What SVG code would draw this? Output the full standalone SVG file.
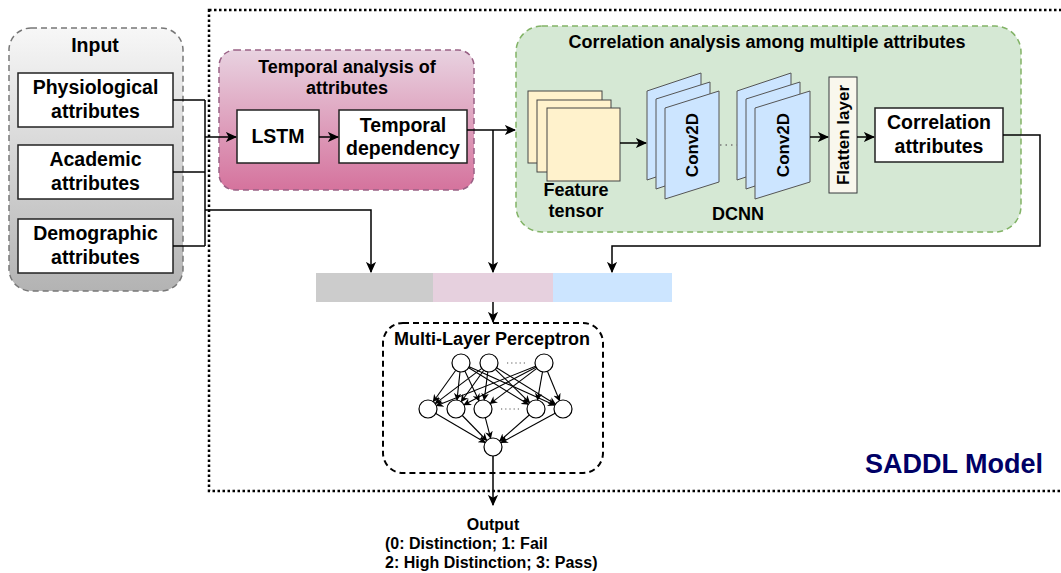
<svg xmlns="http://www.w3.org/2000/svg" width="1061" height="573" viewBox="0 0 1061 573">
  <defs>
    <linearGradient id="gradInput" x1="0" y1="0" x2="0" y2="1">
      <stop offset="0" stop-color="#f7f7f7"/>
      <stop offset="1" stop-color="#b3b3b3"/>
    </linearGradient>
    <linearGradient id="gradTemporal" x1="0" y1="0" x2="0" y2="1">
      <stop offset="0" stop-color="#e8d2e0"/>
      <stop offset="1" stop-color="#d5739d"/>
    </linearGradient>
    <marker id="arrow" viewBox="0 0 10 10" refX="9" refY="5" markerWidth="7.5" markerHeight="7.5" orient="auto" markerUnits="strokeWidth">
      <path d="M0,0.5 L10,5 L0,9.5 L2.5,5 z" fill="#000"/>
    </marker>
    <marker id="arrowSmall" viewBox="0 0 10 10" refX="9" refY="5" markerWidth="7" markerHeight="7" orient="auto" markerUnits="strokeWidth">
      <path d="M0,0 L10,5 L0,10 L3,5 z" fill="#000"/>
    </marker>
  </defs>
  <style>
    text { font-family: "Liberation Sans", Arial, Helvetica, sans-serif; font-weight: bold; fill: #000; }
    .node { font-size: 19.5px; text-anchor: middle; }
    .title { font-size: 18px; text-anchor: middle; }
    .box { fill: #ffffff; stroke: #222; stroke-width: 1.5; }
    .conn { fill: none; stroke: #000; stroke-width: 1.5; }
    .arr { marker-end: url(#arrow); }
    .tensor { fill: #fff2cc; stroke: #444; stroke-width: 1; }
    .conv { fill: #cce5ff; stroke: #555; stroke-width: 1; }
    .neuron { fill: #fff; stroke: #000; stroke-width: 1.2; }
    .edge { stroke: #000; stroke-width: 1.1; fill: none; marker-end: url(#arrowSmall); }
  </style>

  <rect width="1061" height="573" fill="#ffffff"/>

  <!-- SADDL model boundary -->
  <g id="saddl-model">
    <rect x="209" y="10" width="900" height="481" fill="none" stroke="#000" stroke-width="2.5" stroke-dasharray="2.5 2.5"/>
    <text x="954" y="473" style="font-size:27px; fill:#000066; text-anchor:middle;">SADDL Model</text>
  </g>

  <!-- Input group -->
  <g id="input">
    <rect x="9" y="28" width="174" height="263" rx="22" fill="url(#gradInput)" stroke="#777" stroke-width="1.5" stroke-dasharray="6 4"/>
    <text class="title" x="95" y="52" style="font-size:19.5px">Input</text>
  </g>
  <g id="physiological">
    <rect class="box" x="18" y="73" width="155" height="54"/>
    <text class="node" x="95.5" y="94">Physiological</text>
    <text class="node" x="95.5" y="118">attributes</text>
  </g>
  <g id="academic">
    <rect class="box" x="18" y="145" width="155" height="54"/>
    <text class="node" x="95.5" y="166">Academic</text>
    <text class="node" x="95.5" y="190">attributes</text>
  </g>
  <g id="demographic">
    <rect class="box" x="18" y="219" width="155" height="54"/>
    <text class="node" x="95.5" y="240">Demographic</text>
    <text class="node" x="95.5" y="264">attributes</text>
  </g>

  <!-- Temporal analysis group -->
  <g id="temporal-analysis">
    <rect x="219" y="50" width="255" height="140" rx="16" fill="url(#gradTemporal)" stroke="#996185" stroke-width="1.5" stroke-dasharray="6 4"/>
    <text class="title" x="347" y="73">Temporal analysis of</text>
    <text class="title" x="347" y="94">attributes</text>
  </g>
  <g id="lstm">
    <rect class="box" x="237" y="110" width="82" height="53"/>
    <text class="node" x="278" y="143">LSTM</text>
  </g>
  <g id="temporal-dependency">
    <rect class="box" x="339" y="110" width="128" height="53"/>
    <text class="node" x="403" y="132">Temporal</text>
    <text class="node" x="403" y="155">dependency</text>
  </g>

  <!-- Correlation analysis group -->
  <g id="correlation-analysis">
    <rect x="516" y="26" width="505" height="206" rx="26" fill="#d5e8d4" stroke="#82b366" stroke-width="1.5" stroke-dasharray="6 4"/>
    <text class="title" x="767" y="48">Correlation analysis among multiple attributes</text>
  </g>
  <g id="feature-tensor">
    <rect class="tensor" x="528" y="91" width="74" height="72"/>
    <rect class="tensor" x="537" y="100" width="74" height="72"/>
    <rect class="tensor" x="547" y="108" width="73" height="73"/>
    <text class="title" x="576" y="196">Feature</text>
    <text class="title" x="576" y="217">tensor</text>
  </g>
  <g id="dcnn">
    <polygon class="conv" points="647,91 701,73 701,162 647,180"/>
    <polygon class="conv" points="656,99 710,82 710,171 656,189"/>
    <polygon class="conv" points="665,108 719,91 719,182 665,199"/>
    <text x="692" y="145" transform="rotate(-90 692 145)" style="font-size:17px; text-anchor:middle; dominant-baseline:central;">Conv2D</text>
    <polygon class="conv" points="737,91 791,73 791,162 737,180"/>
    <polygon class="conv" points="746,99 800,82 800,171 746,189"/>
    <polygon class="conv" points="755,108 810,91 810,182 755,199"/>
    <text x="783" y="145" transform="rotate(-90 783 145)" style="font-size:17px; text-anchor:middle; dominant-baseline:central;">Conv2D</text>
    <line x1="720" y1="145" x2="737" y2="145" stroke="#777" stroke-width="1.5" stroke-dasharray="1.5 4"/>
    <text class="title" x="738" y="220">DCNN</text>
  </g>
  <g id="flatten-layer">
    <rect x="829" y="77" width="28" height="116" fill="#f9f7ed" stroke="#36393d" stroke-width="1"/>
    <text x="843" y="135" transform="rotate(-90 843 135)" style="font-size:17px; text-anchor:middle; dominant-baseline:central;">Flatten layer</text>
  </g>
  <g id="correlation-attributes">
    <rect class="box" x="875" y="108" width="128" height="54"/>
    <text class="node" x="939" y="129">Correlation</text>
    <text class="node" x="939" y="153">attributes</text>
  </g>

  <!-- Concatenated feature vector -->
  <g id="feature-vector">
    <rect x="316" y="273" width="117" height="29" fill="#cccccc"/>
    <rect x="433" y="273" width="120" height="29" fill="#e6d0de"/>
    <rect x="553" y="273" width="119" height="29" fill="#cce5ff"/>
  </g>

  <!-- Multi-layer perceptron -->
  <g id="mlp">
    <rect x="383" y="323" width="220" height="150" rx="20" fill="none" stroke="#000" stroke-width="2" stroke-dasharray="6 4"/>
    <text class="title" x="492" y="345">Multi-Layer Perceptron</text>
    <g id="mlp-edges">
      <line class="edge" x1="455.8" y1="370.3" x2="433.2" y2="401.7"/>
      <line class="edge" x1="460.0" y1="371.9" x2="457.0" y2="400.1"/>
      <line class="edge" x1="464.9" y1="371.1" x2="479.1" y2="400.9"/>
      <line class="edge" x1="468.7" y1="367.7" x2="528.3" y2="404.3"/>
      <line class="edge" x1="469.2" y1="366.7" x2="554.8" y2="405.3"/>
      <line class="edge" x1="481.8" y1="368.4" x2="435.2" y2="403.6"/>
      <line class="edge" x1="483.8" y1="370.3" x2="461.2" y2="401.7"/>
      <line class="edge" x1="487.8" y1="371.9" x2="484.2" y2="400.1"/>
      <line class="edge" x1="495.4" y1="369.3" x2="529.6" y2="402.7"/>
      <line class="edge" x1="496.6" y1="367.8" x2="555.4" y2="404.2"/>
      <line class="edge" x1="535.6" y1="366.3" x2="436.4" y2="405.7"/>
      <line class="edge" x1="536.0" y1="367.2" x2="464.0" y2="404.8"/>
      <line class="edge" x1="536.8" y1="368.4" x2="490.2" y2="403.6"/>
      <line class="edge" x1="542.5" y1="371.9" x2="537.5" y2="400.1"/>
      <line class="edge" x1="547.4" y1="371.3" x2="559.6" y2="400.7"/>
      <line class="edge" x1="435.8" y1="413.5" x2="485.2" y2="442.5"/>
      <line class="edge" x1="462.3" y1="415.5" x2="486.7" y2="440.5"/>
      <line class="edge" x1="485.3" y1="417.7" x2="490.7" y2="438.3"/>
      <line class="edge" x1="529.3" y1="415.0" x2="499.7" y2="441.0"/>
      <line class="edge" x1="555.1" y1="413.3" x2="500.9" y2="442.7"/>
    </g>
    <g id="mlp-neurons">
      <circle class="neuron" cx="461" cy="363" r="9"/>
      <circle class="neuron" cx="489" cy="363" r="9"/>
      <circle class="neuron" cx="544" cy="363" r="9"/>
      <circle class="neuron" cx="428" cy="409" r="9"/>
      <circle class="neuron" cx="456" cy="409" r="9"/>
      <circle class="neuron" cx="483" cy="409" r="9"/>
      <circle class="neuron" cx="536" cy="409" r="9"/>
      <circle class="neuron" cx="563" cy="409" r="9"/>
      <circle class="neuron" cx="493" cy="447" r="9"/>
    </g>
    <line x1="507" y1="363" x2="526" y2="363" stroke="#555" stroke-width="1.2" stroke-dasharray="1.2 3"/>
    <line x1="501" y1="409" x2="520" y2="409" stroke="#555" stroke-width="1.2" stroke-dasharray="1.2 3"/>
  </g>

  <!-- Output label -->
  <g id="output">
    <text x="493" y="530" style="font-size:16px; text-anchor:middle;">Output</text>
    <text x="385" y="549" style="font-size:16px;">(0: Distinction; 1: Fail</text>
    <text x="385" y="568" style="font-size:16px;">2: High Distinction; 3: Pass)</text>
  </g>

  <!-- Connectors -->
  <g id="connectors">
    <path class="conn" d="M173,100 H205"/>
    <path class="conn" d="M173,172 H205"/>
    <path class="conn" d="M173,246 H205"/>
    <path class="conn" d="M205,100 V246"/>
    <path class="conn arr" d="M205,137 H236"/>
    <path class="conn arr" d="M205,210 H371 V272"/>
    <path class="conn arr" d="M319,137 H338"/>
    <path class="conn arr" d="M467,130 H515"/>
    <path class="conn arr" d="M493,130 V272"/>
    <path class="conn arr" d="M620,143 H646"/>
    <path class="conn arr" d="M810,137 H828"/>
    <path class="conn arr" d="M857,137 H874"/>
    <path class="conn arr" d="M1003,135 H1040 V246 H612 V272"/>
    <path class="conn arr" d="M493,302 V322"/>
    <path class="conn arr" d="M493,456 V505"/>
  </g>
</svg>
